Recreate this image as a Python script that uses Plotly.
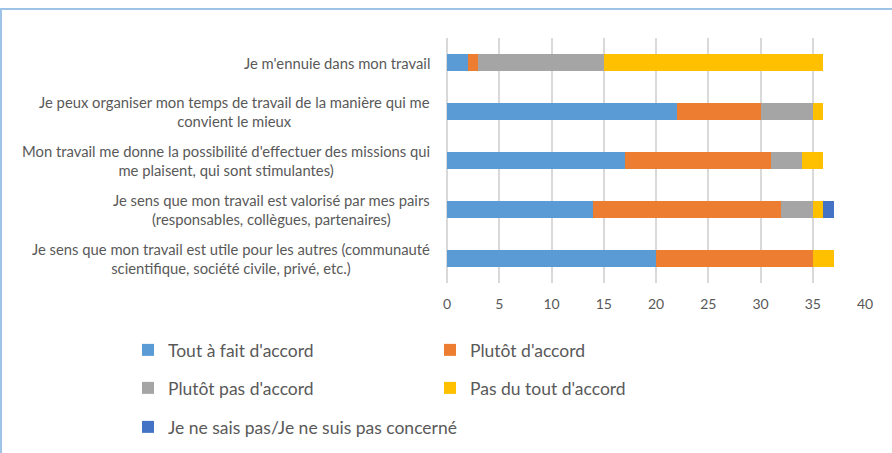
import plotly.graph_objects as go

categories = [
    "Je m'ennuie dans mon travail",
    "Je peux organiser mon temps de travail de la manière qui me<br>convient le mieux",
    "Mon travail me donne la possibilité d'effectuer des missions qui<br>me plaisent, qui sont stimulantes)",
    "Je sens que mon travail est valorisé par mes pairs<br>(responsables, collègues, partenaires)",
    "Je sens que mon travail est utile pour les autres (communauté<br>scientifique, société civile, privé, etc.)",
]
tout_a_fait = [2, 22, 17, 14, 20]
plutot = [1, 8, 14, 18, 15]
plutot_pas = [12, 5, 3, 3, 0]
pas_du_tout = [21, 1, 2, 1, 2]
ne_sais_pas = [0, 0, 0, 1, 0]
x_ticks = [0, 5, 10, 15, 20, 25, 30, 35, 40]

series = [
    ("Tout à fait d'accord", tout_a_fait, "#5B9BD5", "legend"),
    ("Plutôt d'accord", plutot, "#ED7D31", "legend"),
    ("Plutôt pas d'accord", plutot_pas, "#A5A5A5", "legend2"),
    ("Pas du tout d'accord", pas_du_tout, "#FFC000", "legend2"),
    ("Je ne sais pas/Je ne suis pas concerné", ne_sais_pas, "#4472C4", "legend3"),
]

W, H = 892, 453
L, R, T, B = 447, 27, 38, 170
pw, ph = W - L - R, H - T - B

def px_x(p):
    return (p - L) / pw

def px_y(p):
    return (H - B - p) / ph

FONT = "Lato"
GREY = "#595959"

fig = go.Figure()
for name, vals, col, lg in series:
    fig.add_trace(go.Bar(
        y=categories, x=vals, name=name, orientation="h",
        marker=dict(color=col, line=dict(width=0)),
        legend=lg, hoverinfo="x+name",
    ))

annotations = []
for c in categories:
    annotations.append(dict(
        x=px_x(432), xref="paper", y=c, yref="y", text=c, showarrow=False,
        xanchor="right", yanchor="middle", align="center",
        font=dict(family=FONT, size=14.8, color=GREY),
    ))

legend_common = dict(
    orientation="h", xanchor="left", yanchor="middle", traceorder="normal",
    font=dict(family=FONT, size=17.5, color=GREY),
    bgcolor="rgba(0,0,0,0)",
    itemclick=False, itemdoubleclick=False,
)

shapes = [
    dict(type="line", xref="paper", yref="paper", x0=px_x(0), x1=px_x(W),
         y0=px_y(9), y1=px_y(9), line=dict(color="#9DC3E6", width=2)),
    dict(type="line", xref="paper", yref="paper", x0=px_x(1), x1=px_x(1),
         y0=px_y(8), y1=px_y(H), line=dict(color="#9DC3E6", width=2)),
]

fig.update_layout(
    width=W, height=H,
    margin=dict(l=L, r=R, t=T, b=B, autoexpand=False),
    barmode="stack", bargap=0.65,
    plot_bgcolor="white", paper_bgcolor="white",
    font=dict(family=FONT, color=GREY),
    xaxis=dict(range=[0, 40], tickvals=x_ticks, showgrid=True, gridcolor="#D9D9D9",
               gridwidth=1.5, zeroline=True, zerolinecolor="#D9D9D9", zerolinewidth=1.5,
               showline=False, ticks="", ticklabelstandoff=11,
               tickfont=dict(family=FONT, size=14, color=GREY),
               fixedrange=True),
    yaxis=dict(autorange="reversed", showticklabels=False, showgrid=False, ticks="",
               fixedrange=True),
    annotations=annotations,
    shapes=shapes,
    legend=dict(legend_common, x=px_x(128), y=px_y(350),
                entrywidth=257, entrywidthmode="pixels"),
    legend2=dict(legend_common, x=px_x(128), y=px_y(388),
                 entrywidth=257, entrywidthmode="pixels"),
    legend3=dict(legend_common, x=px_x(128), y=px_y(427)),
)

fig.write_html("out.html", config={"displayModeBar": False},
               post_script="document.body.style.margin='0';")
